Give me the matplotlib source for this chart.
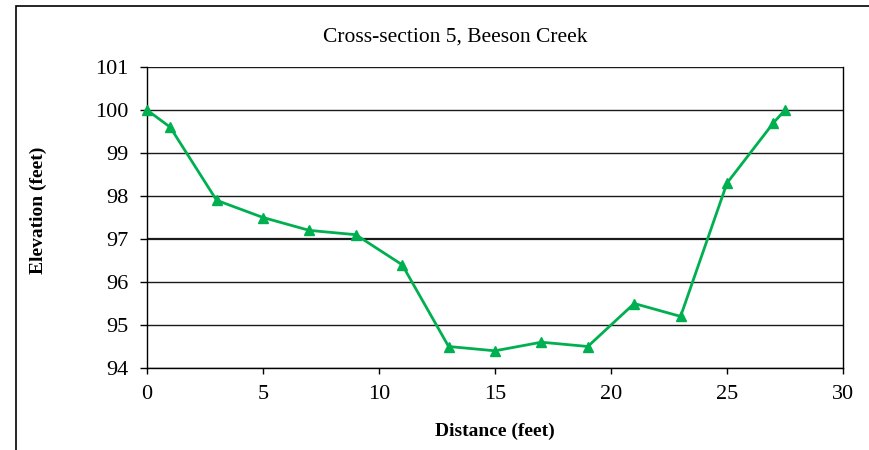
import matplotlib
matplotlib.use("Agg")
import matplotlib.pyplot as plt
from matplotlib.patches import Rectangle

distance = [0, 1, 3, 5, 7, 9, 11, 13, 15, 17, 19, 21, 23, 25, 27, 27.5]
elevation = [100, 99.6, 97.9, 97.5, 97.2, 97.1, 96.4, 94.5, 94.4, 94.6, 94.5,
             95.5, 95.2, 98.3, 99.7, 100]
x_ticks = [0, 5, 10, 15, 20, 25, 30]
y_ticks = [94, 95, 96, 97, 98, 99, 100, 101]
title = "Cross-section 5, Beeson Creek"
xlabel = "Distance (feet)"
ylabel = "Elevation (feet)"

plt.rcParams['font.family'] = ['Liberation Serif', 'DejaVu Serif']

W, H = 869, 450
fig = plt.figure(figsize=(W / 100, H / 100), dpi=100)

# outer chart border
fig.patches.append(Rectangle((16 / W, -0.1), 1.2, 1 - 6 / H + 0.1,
                             transform=fig.transFigure, fill=False,
                             edgecolor='black', linewidth=1.2))

left, right, top, bottom = 147, 843, 67, 368
ax = fig.add_axes([left / W, 1 - bottom / H, (right - left) / W, (bottom - top) / H])

for yv in y_ticks:
    lw = 1.6 if yv == 97 else 1.0
    ax.axhline(yv, color='#1a1a1a', linewidth=lw, zorder=1)

ax.plot(distance, elevation, color='#00B050', linewidth=2.0, marker='^',
        markersize=7, zorder=3, clip_on=False)

ax.set_xlim(0, 30)
ax.set_ylim(94, 101)
ax.set_xticks(x_ticks)
ax.set_yticks(y_ticks)
ax.tick_params(axis='both', direction='out', width=1, labelsize=16,
               color='black')
ax.tick_params(axis='y', length=5, pad=8)
ax.tick_params(axis='x', length=4, pad=8)
for s in ['left', 'right', 'bottom']:
    ax.spines[s].set_color('black')
    ax.spines[s].set_linewidth(1.0)
ax.spines['top'].set_visible(False)

fig.text(455 / W, 1 - 37 / H, title, ha='center', va='center',
         fontsize=15.5)
fig.text(495 / W, 1 - 431 / H, xlabel, ha='center',
         va='center', fontsize=14, fontweight='bold')
fig.text(38 / W, 1 - 210 / H, ylabel, ha='center', va='center', rotation=90,
         fontsize=14, fontweight='bold')

fig.savefig('out.png', dpi=100)
